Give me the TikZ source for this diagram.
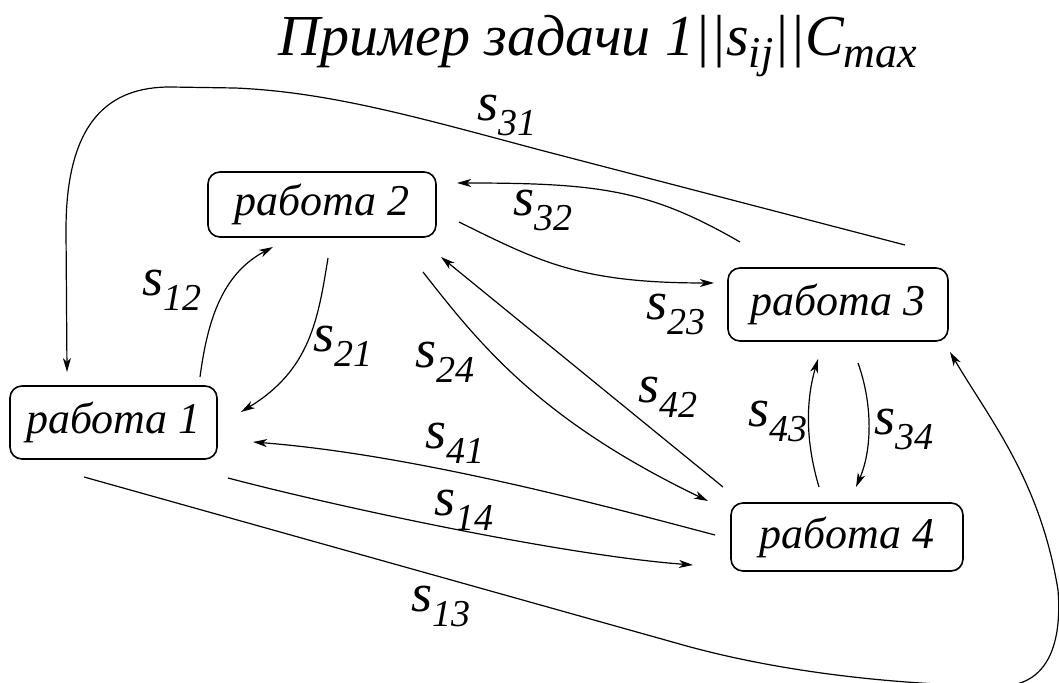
\documentclass[tikz,border=0pt]{standalone}
\usepackage{fontspec}
\setmainfont{Liberation Serif}[ItalicFont={Liberation Serif Italic}]
\newfontfamily\tnr{Liberation Serif Italic}
\usetikzlibrary{arrows.meta}
\newcommand\sij[1]{s\raisebox{-7.5pt}{\fontsize{19}{19}\selectfont #1}}
\begin{document}
\begin{tikzpicture}[x=0.5pt,y=-0.5pt,
  job/.style={draw, line width=0.8pt, rounded corners=6pt, inner sep=0pt,
    font=\fontsize{22}{22}\selectfont\tnr},
  conn/.style={line width=0.6pt, -{Stealth[length=7pt,width=4pt,inset=2pt]}},
  lab/.style={inner sep=0pt, font=\fontsize{27}{27}\selectfont\tnr}]
\useasboundingbox (0,0) rectangle (1059,683);
% title
\node[inner sep=0pt, font=\fontsize{29}{29}\selectfont\tnr] (title) at (598,46)
  {Пример задачи 1\textup{||}s\raisebox{-6pt}{\fontsize{22}{22}\selectfont ij}\textup{||}C\raisebox{-6pt}{\fontsize{22}{22}\selectfont max}};
% jobs
\node[job, minimum width=103.5pt, minimum height=36.5pt] (n1) at (113.5,422.5) {работа 1};
\node[job, minimum width=114pt, minimum height=32.5pt] (n2) at (322,204.5) {работа 2};
\node[job, minimum width=110pt, minimum height=36.5pt] (n3) at (838,304.5) {работа 3};
\node[job, minimum width=116pt, minimum height=34pt] (n4) at (847,537) {работа 4};
% connectors
% s31
\draw[conn] ([shift={(67,-59.5)}]n3.center) -- ++(-365,-95)
  .. controls ++(-120,-32) and (330,92) .. (235,88) -- (170,87)
  .. controls (110,87) and (66,120) .. (66,230) -- ([shift={(-46.5,-50.5)}]n1.center);
% s32
\draw[conn] ([shift={(-98,-62.5)}]n3.center) .. controls (650,190) and (600,183) .. ([shift={(135,-21.5)}]n2.center);
% s23
\draw[conn] ([shift={(137,17.5)}]n2.center) .. controls (540,262) and (580,283) .. ([shift={(-124,-21.5)}]n3.center);
% s12
\draw[conn] ([shift={(86.5,-45.5)}]n1.center) .. controls (207,325) and (220,275) .. ([shift={(-49,42.5)}]n2.center);
% s21
\draw[conn] ([shift={(6,53.5)}]n2.center) .. controls (318,320) and (310,370) .. ([shift={(127.5,-10.5)}]n1.center);
% s24
\draw[conn] ([shift={(101,67.5)}]n2.center) .. controls (480,345) and (540,420) .. ([shift={(-139,-36)}]n4.center);
% s42
\draw[conn] ([shift={(-124,-50)}]n4.center) -- ([shift={(119,52.5)}]n2.center);
% s43
\draw[conn] ([shift={(-28,-50)}]n4.center) .. controls (805,440) and (806,400) .. ([shift={(-20,54.5)}]n3.center);
% s34
\draw[conn] ([shift={(20,58.5)}]n3.center) .. controls (873,405) and (872,450) .. ([shift={(9,-50)}]n4.center);
% s41
\draw[conn] ([shift={(-132,-2)}]n4.center) .. controls (620,510) and (420,455) .. ([shift={(139.5,19.5)}]n1.center);
% s14
\draw[conn] ([shift={(114.5,55.5)}]n1.center) .. controls (330,505) and (560,555) .. ([shift={(-154,28)}]n4.center);
% s13
\draw[conn] ([shift={(-29.5,54.5)}]n1.center) -- (676,643)
  .. controls (780,673) and (900,685) .. (1000,686)
  .. controls (1050,686) and (1062,640) .. (1058,590)
  .. controls (1040,480) and (990,420) .. ([shift={(112,47.5)}]n3.center);
% labels
\node[lab] (l31) at (507,115) {\sij{31}};
\node[lab] (l32) at (543,210) {\sij{32}};
\node[lab] (l12) at (172,290) {\sij{12}};
\node[lab] (l21) at (343,346) {\sij{21}};
\node[lab] (l24) at (445,362) {\sij{24}};
\node[lab] (l23) at (676,314) {\sij{23}};
\node[lab] (l42) at (668,397) {\sij{42}};
\node[lab] (l43) at (778,421) {\sij{43}};
\node[lab] (l34) at (904,429) {\sij{34}};
\node[lab] (l41) at (455,443) {\sij{41}};
\node[lab] (l14) at (464,510) {\sij{14}};
\node[lab] (l13) at (441,606) {\sij{13}};
\end{tikzpicture}
\end{document}
